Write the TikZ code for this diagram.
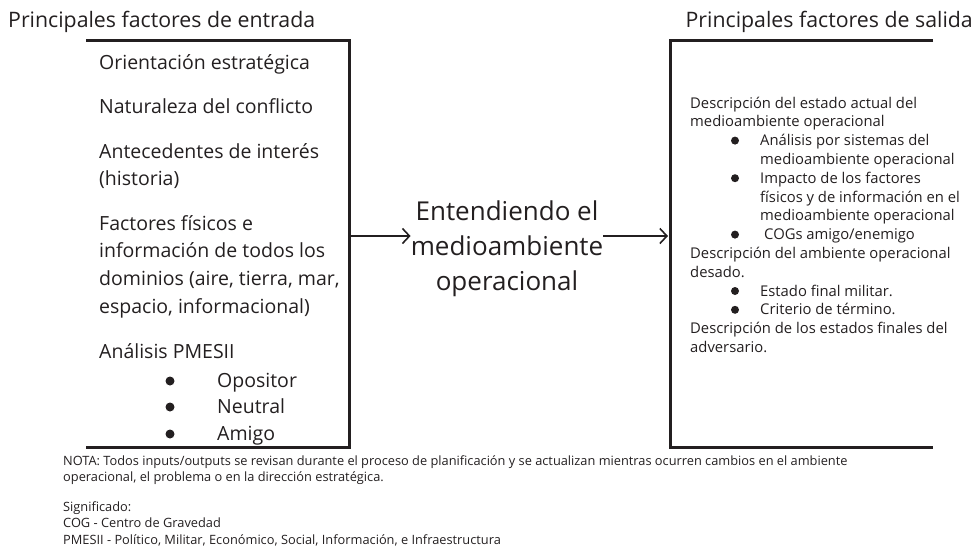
\documentclass[tikz,border=0pt]{standalone}
\usepackage{fontspec}
\setmainfont{Open Sans}
\usetikzlibrary{arrows.meta}
\definecolor{tinta}{HTML}{231F20}
\tikzset{
  marco/.style={line width=3pt,draw=tinta},
  caja/.style={inner sep=0pt,outer sep=0pt,minimum width=263pt,minimum height=407pt},
  flecha/.style={line width=2pt,draw=tinta,-{Straight Barb[length=7pt,width=15pt,line width=1.6pt]}},
  titulo/.style={anchor=base west,inner sep=0pt,text=tinta,font=\fontsize{21.3}{24}\selectfont},
  factor/.style={anchor=base west,inner sep=0pt,text=tinta,align=left,font=\fontsize{19.5}{27.7}\selectfont},
  salida/.style={anchor=base west,inner sep=0pt,text=tinta,align=left,font=\fontsize{14.8}{18.8}\selectfont},
  nota/.style={anchor=base west,inner sep=0pt,text=tinta,align=left,font=\fontsize{12.8}{16.5}\selectfont},
  punto/.style={circle,fill=tinta,inner sep=0pt,minimum size=#1},
}
\begin{document}
\begin{tikzpicture}[x=1pt,y=-1pt]
\useasboundingbox (0,0) rectangle (975,558);
% titulos
\node[titulo] (tEntrada) at (8,27) {Principales factores de entrada};
\node[titulo,anchor=base east] (tSalida) at (973,27) {Principales factores de salida};
%
\node[caja] (entrada) at (217.5,243.5) {};
\node[caja] (salida) at (801.5,243.5) {};
\draw[marco] (entrada.north west)--(entrada.north east)--(entrada.south east)--(entrada.south west);
\draw[marco] (salida.north east)--(salida.north west)--(salida.south west)--(salida.south east);
%
\node[factor] (fOrient) at (99,69) {Orientación estratégica};
\node[factor] (fNatur) at (99,113) {Naturaleza del conflicto};
\node[factor] (fAnte) at (99,185.7) {Antecedentes de interés\\(historia)};
\node[factor] (fFisico) at (99,313.1) {Factores físicos e\\información de todos los\\dominios (aire, tierra, mar,\\espacio, informacional)};
\node[factor] (fPmesii) at (99,358) {Análisis PMESII};
\node[punto=9pt] (bOpo) at (170,381) {};
\node[punto=9pt] (bNeu) at (170,407) {};
\node[punto=9pt] (bAmi) at (170,434) {};
\node[factor] (fOpo) at (217,387) {Opositor};
\node[factor] (fNeu) at (217,413) {Neutral};
\node[factor] (fAmi) at (217,440) {Amigo};
%
\node[text=tinta,align=center,inner sep=0pt,font=\fontsize{26}{35}\selectfont] (proceso) at (507,249) {Entendiendo el\\medioambiente\\operacional};
\draw[flecha] (entrada.east|-0,236)--(proceso.west|-0,236);
\draw[flecha] (proceso.east|-0,236)--([xshift=-2pt]salida.west|-0,236);
%
\node[salida] (sActual) at (690,126.8) {Descripción del estado actual del\\medioambiente operacional};
\node[punto=8pt] (bSis) at (735,140.6) {};
\node[salida] (sSis) at (760,164.4) {Análisis por sistemas del\\medioambiente operacional};
\node[punto=8pt] (bImp) at (735,178.2) {};
\node[salida] (sImp) at (760,220.8) {Impacto de los factores\\físicos y de información en el\\medioambiente operacional};
\node[punto=8pt] (bCog) at (735,234.6) {};
\node[salida] (sCog) at (764,239.6) {COGs amigo/enemigo};
\node[salida] (sDeseado) at (690,277.2) {Descripción del ambiente operacional\\desado.};
\node[punto=8pt] (bFinal) at (735,291) {};
\node[salida] (sFinal) at (760,296) {Estado final militar.};
\node[punto=8pt] (bTerm) at (735,309.8) {};
\node[salida] (sTerm) at (760,314.8) {Criterio de término.};
\node[salida] (sAdv) at (690,352.4) {Descripción de los estados finales del\\adversario.};
%
\node[nota] (nota) at (63,481.5) {NOTA: Todos inputs/outputs se revisan durante el proceso de planificación y se actualizan mientras ocurren cambios en el ambiente\\operacional, el problema o en la dirección estratégica.};
\node[nota] (signif) at (63,544) {Significado:\\COG - Centro de Gravedad\\PMESII - Político, Militar, Económico, Social, Información, e Infraestructura};
\end{tikzpicture}
\end{document}
